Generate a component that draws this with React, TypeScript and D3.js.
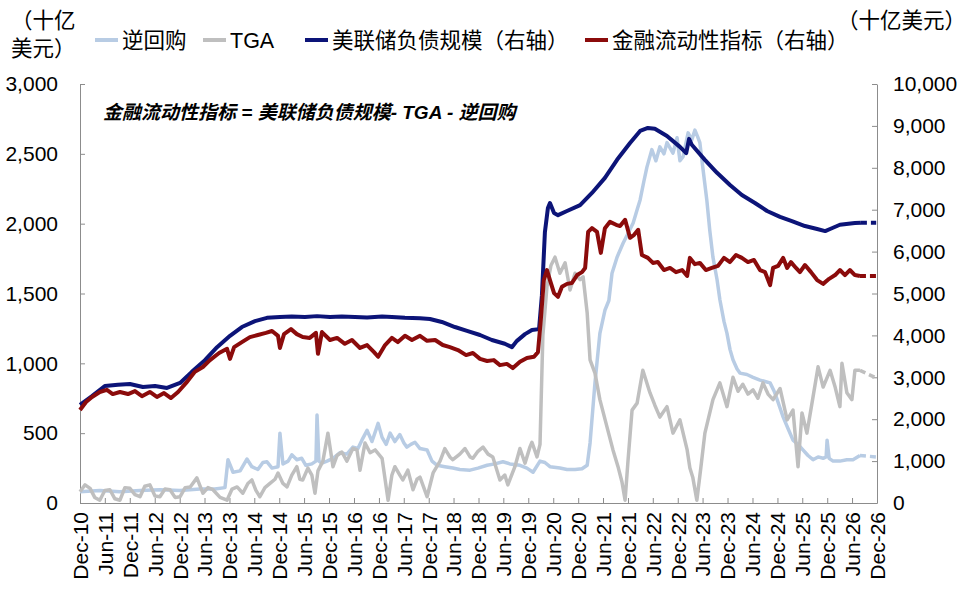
import * as d3 from "d3";
import React, { useRef, useEffect } from "react";

// 逆回购 (left axis, 十亿美元)
const reverseRepo: [string, number][] = [
    ["2010-12-01", 80], ["2011-04-25", 90], ["2011-09-20", 80], ["2012-02-14", 90],
    ["2012-07-09", 95], ["2012-12-04", 90], ["2013-04-28", 100], ["2013-08-16", 100],
    ["2013-10-29", 110], ["2013-11-20", 310], ["2013-12-27", 220], ["2014-02-17", 230],
    ["2014-04-08", 315], ["2014-05-14", 260], ["2014-06-27", 240], ["2014-08-03", 290],
    ["2014-09-02", 295], ["2014-10-09", 250], ["2014-11-22", 260], ["2014-12-06", 500],
    ["2014-12-28", 280], ["2015-02-04", 300], ["2015-03-03", 345], ["2015-04-09", 310],
    ["2015-05-15", 320], ["2015-06-14", 270], ["2015-07-28", 280], ["2015-08-27", 300],
    ["2015-09-04", 630], ["2015-09-18", 300], ["2015-10-10", 285], ["2015-11-16", 300],
    ["2015-12-30", 320], ["2016-02-20", 360], ["2016-04-10", 350], ["2016-05-24", 400],
    ["2016-06-30", 390], ["2016-07-29", 450], ["2016-09-05", 520], ["2016-10-11", 440],
    ["2016-11-25", 570], ["2016-12-24", 470], ["2017-01-23", 420], ["2017-02-21", 500],
    ["2017-03-28", 440], ["2017-05-03", 490], ["2017-06-02", 430], ["2017-06-24", 400],
    ["2017-07-23", 420], ["2017-08-22", 435], ["2017-09-28", 390], ["2017-11-19", 380],
    ["2017-12-25", 300], ["2018-02-01", 270], ["2018-03-29", 260], ["2018-05-27", 250],
    ["2018-07-17", 240], ["2018-09-30", 235], ["2018-11-27", 250], ["2019-02-02", 270],
    ["2019-03-31", 280], ["2019-05-29", 295], ["2019-07-19", 280], ["2019-10-01", 270],
    ["2019-11-21", 250], ["2020-01-05", 220], ["2020-02-25", 300], ["2020-04-01", 290],
    ["2020-05-08", 260], ["2020-07-20", 250], ["2020-09-10", 240], ["2020-11-08", 240],
    ["2020-12-29", 245], ["2021-02-05", 270], ["2021-02-26", 430], ["2021-04-03", 860],
    ["2021-05-09", 1215], ["2021-06-15", 1380], ["2021-07-14", 1450], ["2021-08-06", 1645],
    ["2021-09-12", 1760], ["2021-10-26", 1860], ["2021-12-01", 1930], ["2022-01-08", 2005],
    ["2022-02-06", 2100], ["2022-02-28", 2170], ["2022-03-27", 2300], ["2022-04-19", 2405],
    ["2022-05-25", 2530], ["2022-06-24", 2450], ["2022-07-23", 2550], ["2022-08-22", 2500],
    ["2022-09-13", 2580], ["2022-10-27", 2505], ["2022-11-26", 2615], ["2022-12-17", 2450],
    ["2023-01-09", 2480], ["2023-02-15", 2650], ["2023-03-14", 2600], ["2023-04-06", 2670],
    ["2023-04-27", 2620], ["2023-05-12", 2580], ["2023-06-03", 2400], ["2023-07-02", 2170],
    ["2023-07-24", 1950], ["2023-08-16", 1760], ["2023-09-15", 1600], ["2023-10-06", 1455],
    ["2023-11-05", 1300], ["2023-11-27", 1215], ["2023-12-19", 1100], ["2024-01-10", 1025],
    ["2024-02-09", 960], ["2024-03-01", 930], ["2024-04-21", 920], ["2024-06-05", 900],
    ["2024-07-26", 880], ["2024-09-01", 870], ["2024-10-08", 860], ["2024-11-07", 800],
    ["2024-11-29", 740], ["2024-12-20", 680], ["2025-01-12", 615], ["2025-02-18", 530],
    ["2025-03-25", 450], ["2025-05-01", 420], ["2025-06-06", 380], ["2025-07-13", 340],
    ["2025-08-19", 310], ["2025-09-25", 330], ["2025-11-01", 320], ["2025-11-23", 330],
    ["2025-11-30", 450], ["2025-12-15", 320], ["2026-01-13", 300], ["2026-03-04", 300],
    ["2026-04-24", 310], ["2026-06-08", 310], ["2026-07-29", 340], ["2026-11-25", 330],
];

// TGA (left axis, 十亿美元)
const tga: [string, number][] = [
    ["2010-12-01", 80], ["2011-01-07", 130], ["2011-02-13", 105], ["2011-03-19", 40],
    ["2011-04-25", 20], ["2011-06-01", 90], ["2011-07-08", 95], ["2011-08-14", 30],
    ["2011-09-20", 20], ["2011-10-26", 110], ["2011-12-02", 105], ["2012-01-08", 60],
    ["2012-02-14", 45], ["2012-03-20", 120], ["2012-04-26", 130], ["2012-06-03", 50],
    ["2012-07-09", 45], ["2012-08-15", 100], ["2012-09-21", 95], ["2012-10-28", 40],
    ["2012-12-04", 45], ["2013-01-10", 110], ["2013-02-16", 115], ["2013-04-06", 180],
    ["2013-05-20", 70], ["2013-06-26", 110], ["2013-08-02", 95], ["2013-09-23", 40],
    ["2013-11-13", 20], ["2013-12-20", 100], ["2014-01-26", 115], ["2014-03-09", 70],
    ["2014-04-15", 140], ["2014-05-14", 165], ["2014-06-13", 90], ["2014-07-12", 45],
    ["2014-08-18", 110], ["2014-09-24", 140], ["2014-10-31", 170], ["2014-11-22", 215],
    ["2014-12-28", 140], ["2015-01-27", 115], ["2015-03-03", 200], ["2015-04-09", 260],
    ["2015-05-01", 170], ["2015-05-22", 165], ["2015-06-29", 250], ["2015-07-28", 200],
    ["2015-08-20", 70], ["2015-09-11", 230], ["2015-10-17", 300], ["2015-11-23", 500],
    ["2015-12-30", 260], ["2016-01-29", 340], ["2016-03-04", 365], ["2016-04-10", 300],
    ["2016-05-24", 390], ["2016-06-23", 380], ["2016-07-15", 235], ["2016-08-21", 430],
    ["2016-09-27", 360], ["2016-11-03", 380], ["2016-12-24", 320], ["2017-02-06", 20],
    ["2017-03-06", 200], ["2017-03-28", 260], ["2017-05-03", 200], ["2017-05-25", 165],
    ["2017-07-01", 235], ["2017-08-08", 95], ["2017-09-06", 170], ["2017-09-28", 185],
    ["2017-11-19", 45], ["2018-01-02", 215], ["2018-02-22", 300], ["2018-03-29", 390],
    ["2018-05-05", 330], ["2018-05-27", 310], ["2018-07-17", 350], ["2018-08-24", 390],
    ["2018-09-30", 330], ["2018-10-21", 320], ["2018-11-27", 370], ["2019-01-03", 400],
    ["2019-02-09", 350], ["2019-03-16", 330], ["2019-05-07", 165], ["2019-06-12", 200],
    ["2019-07-04", 130], ["2019-08-25", 260], ["2019-10-01", 390], ["2019-11-07", 285],
    ["2019-12-13", 400], ["2019-12-28", 435], ["2020-02-03", 330], ["2020-02-25", 420],
    ["2020-03-17", 1200], ["2020-04-16", 1550], ["2020-05-15", 1700], ["2020-06-14", 1760],
    ["2020-07-20", 1645], ["2020-08-27", 1720], ["2020-10-02", 1525], ["2020-11-08", 1645],
    ["2020-12-15", 1600], ["2021-01-06", 1620], ["2021-02-05", 1360], ["2021-02-26", 1025],
    ["2021-04-03", 930], ["2021-05-09", 740], ["2021-06-30", 545], ["2021-08-13", 380],
    ["2021-09-19", 260], ["2021-10-18", 150], ["2021-11-10", 20], ["2021-12-01", 300],
    ["2021-12-31", 665], ["2022-02-06", 715], ["2022-03-20", 950], ["2022-05-11", 790],
    ["2022-06-16", 700], ["2022-07-23", 615], ["2022-09-13", 690], ["2022-10-27", 500],
    ["2022-12-17", 595], ["2023-02-08", 380], ["2023-02-28", 250], ["2023-03-21", 185],
    ["2023-04-20", 20], ["2023-05-19", 250], ["2023-06-18", 500], ["2023-08-16", 740],
    ["2023-10-06", 860], ["2023-11-27", 690], ["2024-01-10", 900], ["2024-02-16", 800],
    ["2024-03-22", 850], ["2024-04-29", 780], ["2024-06-05", 810], ["2024-07-11", 750],
    ["2024-08-17", 860], ["2024-09-23", 780], ["2024-10-30", 740], ["2024-12-20", 820],
    ["2025-02-10", 595], ["2025-03-25", 665], ["2025-05-01", 260], ["2025-05-30", 645],
    ["2025-07-05", 500], ["2025-08-19", 760], ["2025-09-25", 975], ["2025-11-01", 830],
    ["2025-12-22", 950], ["2026-01-28", 830], ["2026-03-04", 690], ["2026-03-19", 1000],
    ["2026-04-24", 790], ["2026-05-31", 740], ["2026-06-22", 950], ["2026-07-29", 950],
    ["2026-11-25", 895],
];

// 美联储负债规模 (right axis, 十亿美元)
const fedLiabilities: [string, number][] = [
    ["2010-12-01", 2340], ["2011-02-27", 2550], ["2011-06-01", 2790], ["2011-09-05", 2820],
    ["2011-12-02", 2840], ["2012-03-06", 2770], ["2012-06-03", 2790], ["2012-08-30", 2745],
    ["2012-12-04", 2865], ["2013-02-28", 3130], ["2013-06-04", 3410], ["2013-09-01", 3720],
    ["2013-12-05", 3990], ["2014-03-02", 4200], ["2014-06-06", 4340], ["2014-09-02", 4420],
    ["2014-12-06", 4440], ["2015-03-03", 4450], ["2015-06-07", 4440], ["2015-09-04", 4460],
    ["2015-12-08", 4440], ["2016-03-04", 4450], ["2016-06-08", 4440], ["2016-09-05", 4430],
    ["2016-12-24", 4450], ["2017-03-06", 4440], ["2017-06-10", 4420], ["2017-09-28", 4410],
    ["2017-12-10", 4390], ["2018-03-07", 4320], ["2018-06-11", 4200], ["2018-09-08", 4110],
    ["2018-12-12", 4010], ["2019-03-09", 3890], ["2019-06-12", 3800], ["2019-08-03", 3720],
    ["2019-09-09", 3870], ["2019-11-07", 4030], ["2019-12-28", 4130], ["2020-02-18", 4150],
    ["2020-03-10", 4960], ["2020-04-01", 6470], ["2020-04-23", 7040], ["2020-05-08", 7160],
    ["2020-06-07", 6920], ["2020-07-06", 6870], ["2020-09-10", 6970], ["2020-12-15", 7110],
    ["2021-03-12", 7400], ["2021-06-15", 7760], ["2021-09-12", 8190], ["2021-12-16", 8590],
    ["2022-02-28", 8880], ["2022-04-26", 8950], ["2022-06-16", 8930], ["2022-09-13", 8760],
    ["2022-12-17", 8500], ["2023-02-01", 8350], ["2023-02-22", 8690], ["2023-03-14", 8550],
    ["2023-06-18", 8190], ["2023-09-15", 7880], ["2023-12-19", 7590], ["2024-03-15", 7350],
    ["2024-06-19", 7160], ["2024-09-16", 6970], ["2024-12-20", 6830], ["2025-03-17", 6730],
    ["2025-06-21", 6610], ["2025-09-18", 6540], ["2025-11-16", 6490], ["2025-12-22", 6540],
    ["2026-03-04", 6640], ["2026-06-22", 6680], ["2026-08-05", 6690], ["2026-11-25", 6690],
];

// 金融流动性指标 (right axis, 十亿美元)
const liquidity: [string, number][] = [
    ["2010-12-01", 2220], ["2011-01-14", 2410], ["2011-02-27", 2530], ["2011-04-25", 2650],
    ["2011-06-16", 2700], ["2011-07-29", 2600], ["2011-09-20", 2650], ["2011-11-18", 2600],
    ["2012-01-08", 2670], ["2012-02-28", 2550], ["2012-04-26", 2650], ["2012-06-17", 2530],
    ["2012-08-08", 2625], ["2012-09-28", 2505], ["2012-11-19", 2650], ["2013-01-17", 2865],
    ["2013-03-22", 3130], ["2013-05-20", 3245], ["2013-07-11", 3410], ["2013-09-16", 3580],
    ["2013-11-13", 3680], ["2013-12-05", 3440], ["2014-01-04", 3720], ["2014-03-02", 3840],
    ["2014-04-30", 3960], ["2014-06-27", 4010], ["2014-08-25", 4060], ["2014-10-09", 4105],
    ["2014-11-22", 3990], ["2014-12-06", 3700], ["2015-01-05", 4030], ["2015-02-25", 4150],
    ["2015-04-09", 4030], ["2015-05-22", 3960], ["2015-07-13", 3940], ["2015-08-27", 4060],
    ["2015-09-11", 3560], ["2015-10-10", 4080], ["2015-12-08", 3890], ["2016-01-29", 3940],
    ["2016-03-26", 3800], ["2016-05-17", 3890], ["2016-07-15", 3700], ["2016-09-05", 3770],
    ["2016-10-26", 3600], ["2016-11-25", 3490], ["2017-01-15", 3770], ["2017-03-06", 3940],
    ["2017-04-19", 3840], ["2017-06-10", 3990], ["2017-07-31", 3890], ["2017-09-28", 3990],
    ["2017-11-19", 3870], ["2018-01-17", 3890], ["2018-03-14", 3770], ["2018-05-05", 3720],
    ["2018-07-03", 3650], ["2018-09-01", 3530], ["2018-10-21", 3580], ["2018-12-12", 3440],
    ["2019-02-02", 3390], ["2019-03-23", 3410], ["2019-05-07", 3290], ["2019-06-27", 3320],
    ["2019-08-10", 3220], ["2019-10-01", 3370], ["2019-11-21", 3460], ["2020-01-12", 3490],
    ["2020-02-10", 3600], ["2020-03-02", 4370], ["2020-03-24", 5320], ["2020-04-16", 5560],
    ["2020-05-08", 5320], ["2020-06-07", 5010], ["2020-07-06", 4920], ["2020-08-04", 5160],
    ["2020-09-10", 5230], ["2020-10-16", 5250], ["2020-11-23", 5440], ["2020-12-29", 5510],
    ["2021-01-21", 5610], ["2021-02-12", 6470], ["2021-03-12", 6560], ["2021-04-18", 6470],
    ["2021-05-16", 5970], ["2021-06-15", 6560], ["2021-07-22", 6710], ["2021-09-05", 6640],
    ["2021-10-04", 6610], ["2021-11-10", 6760], ["2021-12-16", 6330], ["2022-01-15", 6400],
    ["2022-02-14", 6520], ["2022-03-13", 5920], ["2022-04-26", 5850], ["2022-06-02", 5730],
    ["2022-07-08", 5750], ["2022-08-22", 5560], ["2022-10-05", 5610], ["2022-11-18", 5510],
    ["2023-01-02", 5560], ["2023-02-08", 5420], ["2023-02-28", 5850], ["2023-04-06", 5700],
    ["2023-05-12", 5730], ["2023-06-25", 5560], ["2023-08-08", 5610], ["2023-09-22", 5660],
    ["2023-11-05", 5850], ["2023-12-19", 5750], ["2024-02-01", 5920], ["2024-03-15", 5850],
    ["2024-04-29", 5750], ["2024-06-12", 5800], ["2024-07-26", 5560], ["2024-09-01", 5510],
    ["2024-10-08", 5200], ["2024-10-30", 5610], ["2024-12-06", 5660], ["2025-01-12", 5850],
    ["2025-02-10", 5610], ["2025-03-10", 5750], ["2025-04-16", 5610], ["2025-05-15", 5510],
    ["2025-06-21", 5680], ["2025-08-04", 5510], ["2025-09-18", 5320], ["2025-11-01", 5230],
    ["2025-12-15", 5350], ["2026-01-28", 5440], ["2026-03-04", 5560], ["2026-04-10", 5440],
    ["2026-05-16", 5560], ["2026-06-22", 5440], ["2026-07-29", 5420], ["2026-11-25", 5420],
];

const leftTicks = [0, 500, 1000, 1500, 2000, 2500, 3000];
const rightTicks = [0, 1000, 2000, 3000, 4000, 5000, 6000, 7000, 8000, 9000, 10000];
const seriesNames = ["逆回购", "TGA", "美联储负债规模（右轴）", "金融流动性指标（右轴）"];
const seriesColors = ["#b8cce4", "#bfbfbf", "#0c1478", "#8b0b0b"];
const formula = "金融流动性指标 = 美联储负债规模- TGA - 逆回购";

function App() {
    const ref = useRef<SVGSVGElement>(null);
    const width = 968;
    const height = 594;
    const margin = { top: 84, right: 91, bottom: 91, left: 80 };

    useEffect(() => {
        const svg = d3.select(ref.current);
        svg.selectAll("*").remove();

        const font = "'Liberation Sans', Arial, 'Noto Sans CJK SC', sans-serif";
        const parse = d3.timeParse("%Y-%m-%d");
        const start = parse("2010-12-01") as Date;
        const end = parse("2026-12-01") as Date;

        const x = d3.scaleTime().domain([start, end]).range([margin.left, width - margin.right]);
        const yLeft = d3.scaleLinear().domain([0, 3000]).range([height - margin.bottom, margin.top]);
        const yRight = d3.scaleLinear().domain([0, 10000]).range([height - margin.bottom, margin.top]);

        const axisColor = "#8c8c8c";

        // left axis
        const gl = svg
            .append("g")
            .attr("transform", `translate(${margin.left},0)`)
            .call(d3.axisLeft(yLeft).tickValues(leftTicks).tickFormat(d3.format(",")).tickSize(-5).tickSizeOuter(0).tickPadding(22));
        // right axis
        const gr = svg
            .append("g")
            .attr("transform", `translate(${width - margin.right},0)`)
            .call(d3.axisRight(yRight).tickValues(rightTicks).tickFormat(d3.format(",")).tickSize(-5).tickSizeOuter(0).tickPadding(16));
        // bottom axis
        const monthTicks = d3.timeMonth.range(start, d3.timeDay.offset(end, 1), 6);
        const gb = svg
            .append("g")
            .attr("transform", `translate(0,${height - margin.bottom})`)
            .call(d3.axisBottom(x).tickValues(monthTicks).tickFormat(d3.timeFormat("%b-%y") as any).tickSize(-5).tickSizeOuter(0));
        gb.selectAll("text")
            .attr("transform", "rotate(-90)")
            .attr("x", -9)
            .attr("y", 0)
            .attr("dy", "0.35em")
            .attr("text-anchor", "end");

        [gl, gr, gb].forEach((g) => {
            g.selectAll("path, line").attr("stroke", axisColor);
            g.selectAll("text").attr("fill", "#000").style("font-size", "21px").style("font-family", font);
        });

        // lines
        const series = [
            { data: reverseRepo, y: yLeft, w: 3.5 },
            { data: tga, y: yLeft, w: 3.5 },
            { data: fedLiabilities, y: yRight, w: 4 },
            { data: liquidity, y: yRight, w: 4 },
        ];
        const plot = svg.append("g");
        series.forEach((s, i) => {
            const pts = s.data.map((d) => [parse(d[0]) as Date, d[1]] as [Date, number]);
            const line = d3
                .line<[Date, number]>()
                .x((d) => x(d[0]))
                .y((d) => s.y(d[1]));
            plot.append("path")
                .attr("d", line(pts.slice(0, -1)))
                .attr("fill", "none")
                .attr("stroke", seriesColors[i])
                .attr("stroke-width", s.w)
                .attr("stroke-linejoin", "round");
            plot.append("path")
                .attr("d", line(pts.slice(-2)))
                .attr("fill", "none")
                .attr("stroke", seriesColors[i])
                .attr("stroke-width", s.w)
                .attr("stroke-dasharray", "6,4");
        });

        // legend
        const legendX = [95, 203, 305, 585];
        const legend = svg.append("g").style("font-family", font).style("font-size", "21.5px");
        seriesNames.forEach((name, i) => {
            legend.append("line")
                .attr("x1", legendX[i])
                .attr("x2", legendX[i] + 23)
                .attr("y1", 40)
                .attr("y2", 40)
                .attr("stroke", seriesColors[i])
                .attr("stroke-width", 4);
            legend.append("text")
                .attr("x", legendX[i] + 27)
                .attr("y", 40)
                .attr("dy", "0.35em")
                .attr("fill", "#000")
                .text(name);
        });

        // units
        const units = svg.append("g").style("font-family", font).style("font-size", "21.5px").attr("fill", "#000");
        units.append("text").attr("x", 11).attr("y", 20).attr("dy", "0.35em").text("（十亿");
        units.append("text").attr("x", 11).attr("y", 48).attr("dy", "0.35em").text("美元）");
        units.append("text").attr("x", 966).attr("y", 20).attr("dy", "0.35em").attr("text-anchor", "end").text("（十亿美元）");

        // formula note
        svg.append("text")
            .attr("x", 103)
            .attr("y", 112)
            .attr("dy", "0.35em")
            .style("font-family", font)
            .style("font-size", "19px")
            .style("font-weight", "bold")
            .style("font-style", "italic")
            .attr("fill", "#000")
            .text(formula);
    }, []);

    return (
        <svg
            ref={ref}
            width={width}
            height={height}
            style={{ position: "absolute", left: 0, top: 0, background: "#fff" }}
        ></svg>
    );
}

export default App;
